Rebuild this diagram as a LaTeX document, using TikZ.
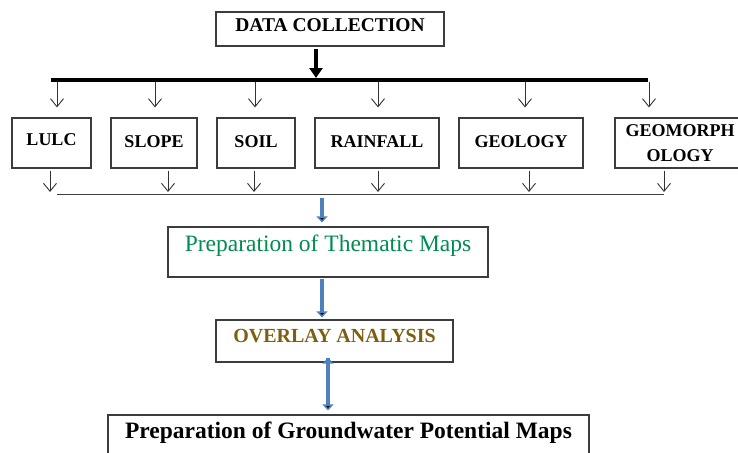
\documentclass[tikz,border=0pt]{standalone}
\usepackage{fontspec}
\setmainfont{Liberation Serif}
\usetikzlibrary{arrows.meta}
\definecolor{boxgray}{RGB}{60,60,60}
\definecolor{flowblue}{RGB}{79,129,189}
\definecolor{mapgreen}{RGB}{0,140,80}
\definecolor{overlaygold}{RGB}{125,95,15}

\begin{document}
\begin{tikzpicture}[x=1pt, y=-1pt,
  layer/.style={draw=boxgray, line width=1.2pt, inner xsep=0pt, inner ysep=2pt, font=\bfseries\fontsize{18}{25}\selectfont, text height=27pt, text depth=19pt},
  stage/.style={draw=boxgray, line width=1.2pt, inner xsep=0pt, inner ysep=2pt},
  feed/.style={-{Straight Barb[length=8pt,width=13pt]}, line width=0.9pt, draw=black!80},
  bigarrow/.style={-{Triangle[length=10pt,width=13pt]}, line width=4.5pt},
  flow/.style={-{Triangle[length=6pt,width=11pt]}, line width=4pt, draw=flowblue}]

        \useasboundingbox (0,0) rectangle (738,452);
        \clip (0,0) rectangle (738,452);

        \node[stage, minimum width=228pt, text height=18pt, text depth=12pt, font=\bfseries\fontsize{19.5}{22}\selectfont] (dc) at (330,29) {DATA COLLECTION};

        \node[layer, minimum width=79pt, text height=25pt, text depth=21pt] (lulc) at (51.5,143) {LULC};
        \node[layer, minimum width=86pt] (slope) at (154,143) {SLOPE};
        \node[layer, minimum width=78pt] (soil) at (256,143) {SOIL};
        \node[layer, minimum width=124pt] (rain) at (377,143) {RAINFALL};
        \node[layer, minimum width=124pt] (geol) at (521,143) {GEOLOGY};
        \node[layer, minimum width=130pt, minimum height=50pt, text height=, text depth=, align=center] (geom) at (680,143) {GEOMORPH\\OLOGY};

        \node[stage, minimum width=320pt, text height=22pt, text depth=24pt, text=mapgreen, font=\fontsize{23.5}{26}\selectfont] (tm) at (328,252) {Preparation of Thematic Maps};
        \node[stage, minimum width=237pt, text height=20.5pt, text depth=17.5pt, text=overlaygold, font=\bfseries\fontsize{20}{22}\selectfont] (ov) at (334.5,341) {OVERLAY ANALYSIS};
        \node[stage, minimum width=481pt, text height=21.7pt, text depth=34.3pt, font=\bfseries\fontsize{23.5}{26}\selectfont] (gw) at (348.5,445) {Preparation of Groundwater Potential Maps};

        \coordinate (busl) at (51,80);
        \coordinate (busr) at (648,80);
        \coordinate (merl) at (57,194);
        \coordinate (merr) at (664,194);

        \draw[line width=4pt] (busl) -- (busr);
        \draw[line width=1pt, draw=black!75] (merl) -- (merr);
        \draw[bigarrow, shorten <=2pt, shorten >=2pt] (dc.south -| 316,0) -- (316,0 |- busl);

        \foreach \n/\x in {lulc/57, slope/155, soil/255, rain/378, geol/525, geom/649}
            \draw[feed, shorten <=2pt, shorten >=10pt] (\x,0 |- busl) -- (\x,0 |- \n.north);
        \foreach \n/\x in {lulc/50, slope/168, soil/254, rain/378, geol/529, geom/664}
            \draw[feed, shorten <=2pt, shorten >=2pt] (\x,0 |- \n.south) -- (\x,0 |- merl);

        \path[flow]
            (322,0 |- merl) edge[shorten <=4pt, shorten >=4pt] (322,0 |- tm.north)
            (322,0 |- tm.south) edge[shorten <=1pt, shorten >=2pt] (322,0 |- ov.north)
            ([yshift=5pt]ov.south -| 328,0) edge[shorten >=4pt] (328,0 |- gw.north)
            ;
\end{tikzpicture}
\end{document}
